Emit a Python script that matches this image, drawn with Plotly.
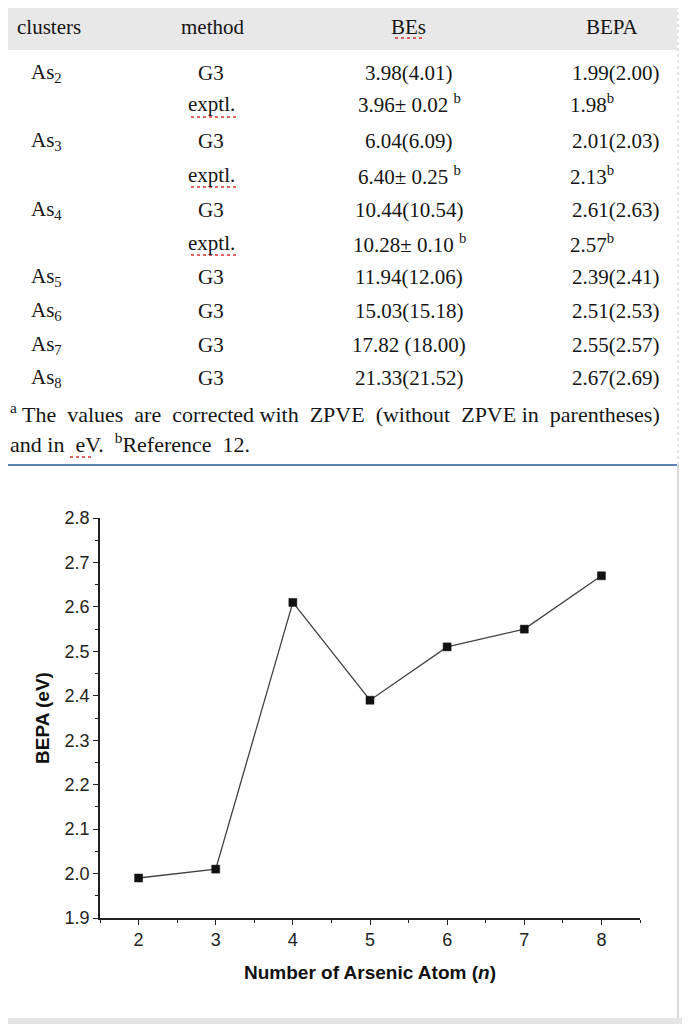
import plotly.graph_objects as go

# ---------------- data ----------------
clusters = ["As<sub>2</sub>", "", "As<sub>3</sub>", "", "As<sub>4</sub>", "",
            "As<sub>5</sub>", "As<sub>6</sub>", "As<sub>7</sub>", "As<sub>8</sub>"]
methods = ["G3", "exptl.", "G3", "exptl.", "G3", "exptl.", "G3", "G3", "G3", "G3"]
bes_text = ["3.98(4.01)", "3.96± 0.02 <sup>b</sup>", "6.04(6.09)", "6.40± 0.25 <sup>b</sup>",
            "10.44(10.54)", "10.28± 0.10 <sup>b</sup>", "11.94(12.06)", "15.03(15.18)",
            "17.82 (18.00)", "21.33(21.52)"]
bepa_text = ["1.99(2.00)", "1.98<sup>b</sup>", "2.01(2.03)", "2.13<sup>b</sup>",
             "2.61(2.63)", "2.57<sup>b</sup>", "2.39(2.41)", "2.51(2.53)",
             "2.55(2.57)", "2.67(2.69)"]
headers = ["clusters", "method", "BEs", "BEPA"]
footnote1 = "<sup>a</sup> The  values  are  corrected with  ZPVE  (without  ZPVE in  parentheses)"
footnote2 = "and in  eV.  <sup>b</sup>Reference  12."

n_atoms = [2, 3, 4, 5, 6, 7, 8]
bepa = [1.99, 2.01, 2.61, 2.39, 2.51, 2.55, 2.67]

# ---------------- layout geometry ----------------
# the page adds an 8px body margin, so everything is laid out 8px up/left
OFF = 8
W, H = 690 - OFF, 1024 - OFF
L, T = 100 - OFF, 518 - OFF
R, B = 50, 106
PW, PH = W - L - R, H - T - B


def px(x):
    return (x - OFF - L) / PW


def py(y):
    return (H - B - (y - OFF)) / PH


fig = go.Figure()
fig.add_trace(go.Scatter(
    x=n_atoms, y=bepa, mode="lines+markers",
    line=dict(color="#404040", width=1.3),
    marker=dict(symbol="square", size=8, color="#111111",
                line=dict(color="#111111", width=0.5)),
    showlegend=False, hoverinfo="x+y",
))

serif = "Liberation Serif"
sans = "Liberation Sans"
tcol = "#151515"
annotations = []


def txt(x, y, s, anchor="center", size=21, font=serif, color=tcol):
    annotations.append(dict(
        x=px(x), y=py(y), xref="paper", yref="paper", text=s, showarrow=False,
        xanchor=anchor, yanchor="middle", font=dict(family=font, size=size, color=color),
    ))


# header
txt(15, 27, headers[0], "left")
txt(212, 27, headers[1])
txt(408, 27, headers[2])
txt(612, 27, headers[3])

row_y = [73, 104, 141, 175, 210, 243, 277, 311, 345, 378]
for i, yy in enumerate(row_y):
    if clusters[i]:
        txt(29, yy, clusters[i], "left")
    txt(211, yy, methods[i])
    txt(409, yy, bes_text[i])
    if methods[i] == "G3":
        txt(662, yy, bepa_text[i], "right")
    else:
        txt(568, yy, bepa_text[i], "left")

txt(OFF, 413, footnote1, "left", size=22)
txt(OFF, 443, footnote2, "left", size=22)

shapes = [
    # header band
    dict(type="rect", xref="paper", yref="paper", x0=px(0), x1=px(677), y0=py(50), y1=py(5),
         fillcolor="#e8e8e8", line=dict(width=0), layer="below"),
    # separator line
    dict(type="line", xref="paper", yref="paper", x0=px(0), x1=px(677), y0=py(465), y1=py(465),
         line=dict(color="#5b84b4", width=2)),
    # right page edges
    dict(type="line", xref="paper", yref="paper", x0=px(678), x1=px(678), y0=py(0), y1=py(465),
         line=dict(color="#c8c8c8", width=1, dash="dot")),
    dict(type="line", xref="paper", yref="paper", x0=px(678), x1=px(678), y0=py(465), y1=py(1018),
         line=dict(color="#d8d8d8", width=2)),
    # bottom strip
    dict(type="rect", xref="paper", yref="paper", x0=px(0), x1=px(690), y0=py(1024), y1=py(1018),
         fillcolor="#e4e4e4", line=dict(width=0)),
]
# spell-check underlines
for (x0, x1, yy) in [(395, 424, 38), (191, 236, 117), (191, 236, 187), (191, 236, 255), (70, 92, 457)]:
    shapes.append(dict(type="line", xref="paper", yref="paper", x0=px(x0), x1=px(x1),
                       y0=py(yy), y1=py(yy), line=dict(color="#e03030", width=1.5, dash="dot")))

axis_common = dict(
    showline=True, linecolor="#222222", linewidth=1.5, mirror=False,
    ticks="outside", ticklen=5, tickwidth=1.3, tickcolor="#222222",
    showgrid=False, zeroline=False,
    tickfont=dict(family=sans, size=18, color="#222222"),
)

fig.update_layout(
    width=W, height=H,
    margin=dict(l=L, r=R, t=T, b=B),
    paper_bgcolor="white", plot_bgcolor="white",
    xaxis=dict(range=[1.5, 8.5], tickmode="array", tickvals=n_atoms,
               minor=dict(ticks="outside", ticklen=3, tickwidth=1.2, tickcolor="#222222", dtick=0.5, tick0=1.5),
               title=dict(text="<b>Number of Arsenic Atom (<i>n</i>)</b>", standoff=16,
                          font=dict(family=sans, size=19, color="#111111")),
               **axis_common),
    yaxis=dict(range=[1.9, 2.8], tickmode="linear", tick0=1.9, dtick=0.1, tickformat=".1f",
               minor=dict(ticks="outside", ticklen=3, tickwidth=1.2, tickcolor="#222222", dtick=0.05),
               title=dict(text="<b>BEPA (eV)</b>", standoff=10,
                          font=dict(family=sans, size=19, color="#111111")),
               **axis_common),
    annotations=annotations,
    shapes=shapes,
)

fig.write_html("out.html")
